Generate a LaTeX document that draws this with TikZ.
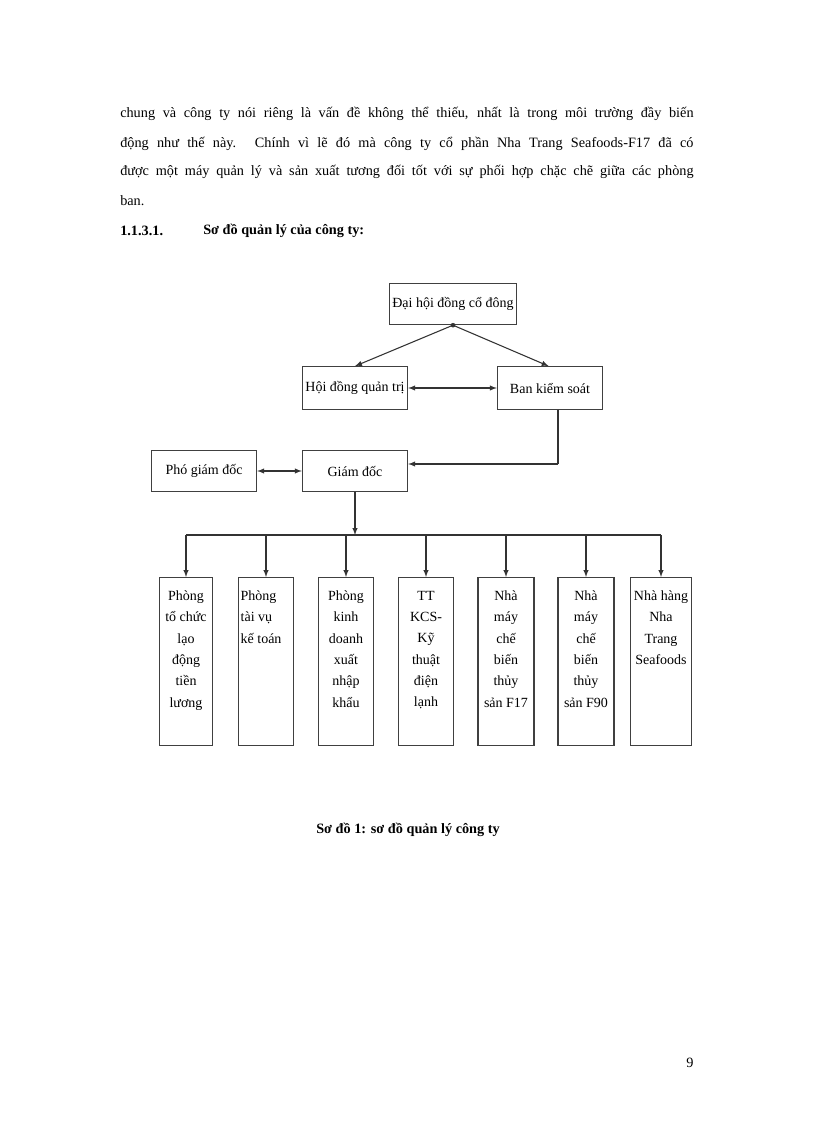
\documentclass[tikz,border=0pt]{standalone}
\usepackage{fontspec}
\setmainfont{Liberation Serif}
\begin{document}
\begin{tikzpicture}[x=0.75pt,y=-0.75pt,
 bx/.style={draw,thick,gray!50!black,text=black,inner sep=2pt,font=\fontsize{10.5}{16}\selectfont,align=center},
 ar/.style={-latex,thick,gray!40!black},
 dar/.style={latex-latex,thick,gray!40!black}]
\useasboundingbox (0,0) rectangle (816,1123);
\fill[white] (0,0) rectangle (816,1123);
\tikzset{ln/.style={anchor=west,inner sep=0pt,font=\fontsize{10.7}{12}\selectfont}}
\node[ln] (l1) at (120,114) {\makebox[430pt][s]{chung và công ty nói riêng là vấn đề không thể thiếu, nhất là trong môi trường đầy biến}};
\node[ln] (l2) at (120,144) {\makebox[430pt][s]{động như thế này. Chính vì lẽ đó mà công ty cổ phần Nha Trang Seafoods-F17 đã có}};
\node[ln] (l3) at (120,172) {\makebox[430pt][s]{được một máy quản lý và sản xuất tương đối tốt với sự phối hợp chặc chẽ giữa các phòng}};
\node[ln] (l4) at (120,201) {ban.};
\node[ln,font=\bfseries\fontsize{10.7}{12}\selectfont] (h1) at (120,231) {1.1.3.1.};
\node[ln,font=\bfseries\fontsize{10.7}{12}\selectfont] (h2) at (203,231) {Sơ đồ quản lý của công ty:};
\node[inner sep=0pt,font=\bfseries\fontsize{10.7}{12}\selectfont] (cap) at (408,830) {Sơ đồ 1: sơ đồ quản lý công ty};
\node[inner sep=0pt,font=\fontsize{10.7}{12}\selectfont] (pg) at (690,1063) {9};

\node[bx,minimum width=94pt,minimum height=31pt] (dh) at (453,304) {Đại hội đồng cổ đông};
\node[bx,minimum width=79pt,minimum height=32pt] (hd) at (355,388) {Hội đồng quản trị};
\node[bx,minimum width=79pt,minimum height=32pt] (bk) at (550,388) {Ban kiểm soát};
\node[bx,minimum width=79pt,minimum height=31pt] (pg2) at (204,471) {Phó giám đốc};
\node[bx,minimum width=79pt,minimum height=31pt] (gd) at (355,471) {Giám đốc};
\tikzset{bb/.style={bx,anchor=north,minimum height=126pt,inner sep=1pt,font=\fontsize{10.5}{16}\selectfont}}
\newcommand\bxt[3]{\parbox[t][118pt][t]{#1}{\vspace*{6pt}#2 #3}}
\node[bb,minimum width=40pt] (b1) at (186,577) {\bxt{38pt}{\centering}{Phòng\\tổ chức\\lạo\\động\\tiền\\lương}};
\node[bb,minimum width=41pt] (b2) at (266,577) {\bxt{38pt}{\raggedright}{Phòng\\tài vụ\\kế toán}};
\node[bb,minimum width=41pt] (b3) at (346,577) {\bxt{38pt}{\centering}{Phòng\\kinh\\doanh\\xuất\\nhập\\khẩu}};
\node[bb,minimum width=41pt] (b4) at (426,577) {\bxt{38pt}{\centering}{TT\\KCS-\\Kỹ\\thuật\\điện\\lạnh}};
\node[bb,minimum width=41pt] (b5) at (506,577) {\bxt{40pt}{\centering}{Nhà\\máy\\chế\\biến\\thủy\\sản F17}};
\node[bb,minimum width=41pt] (b6) at (586,577) {\bxt{40pt}{\centering}{Nhà\\máy\\chế\\biến\\thủy\\sản F90}};
\node[bb,minimum width=46pt] (b7) at (661,577) {\bxt{44pt}{\centering}{Nhà hàng\\Nha\\Trang\\Seafoods}};

\draw[ar] (dh.south) -- (hd.north);
\draw[ar] (dh.south) -- ([xshift=-1pt]bk.north);
\draw[fill=white,gray!40!black] (dh.south) circle (2);
\draw[dar] (hd) -- (bk);
\draw[dar] (pg2) -- (gd);
\coordinate (c1) at (558,464);
\draw[thick,gray!40!black] (bk.south -| c1) -- (c1);
\draw[ar] (c1) -- (c1 -| gd.east);
\coordinate (bus) at (355,535);
\draw[ar] (gd.south) -- (bus);
\draw[thick,gray!40!black] (bus -| b1.north) -- (bus -| b7.north);
\foreach \b in {b1,b2,b3,b4,b5,b6,b7} \draw[ar] (bus -| \b.north) -- (\b.north);
\end{tikzpicture}
\end{document}
